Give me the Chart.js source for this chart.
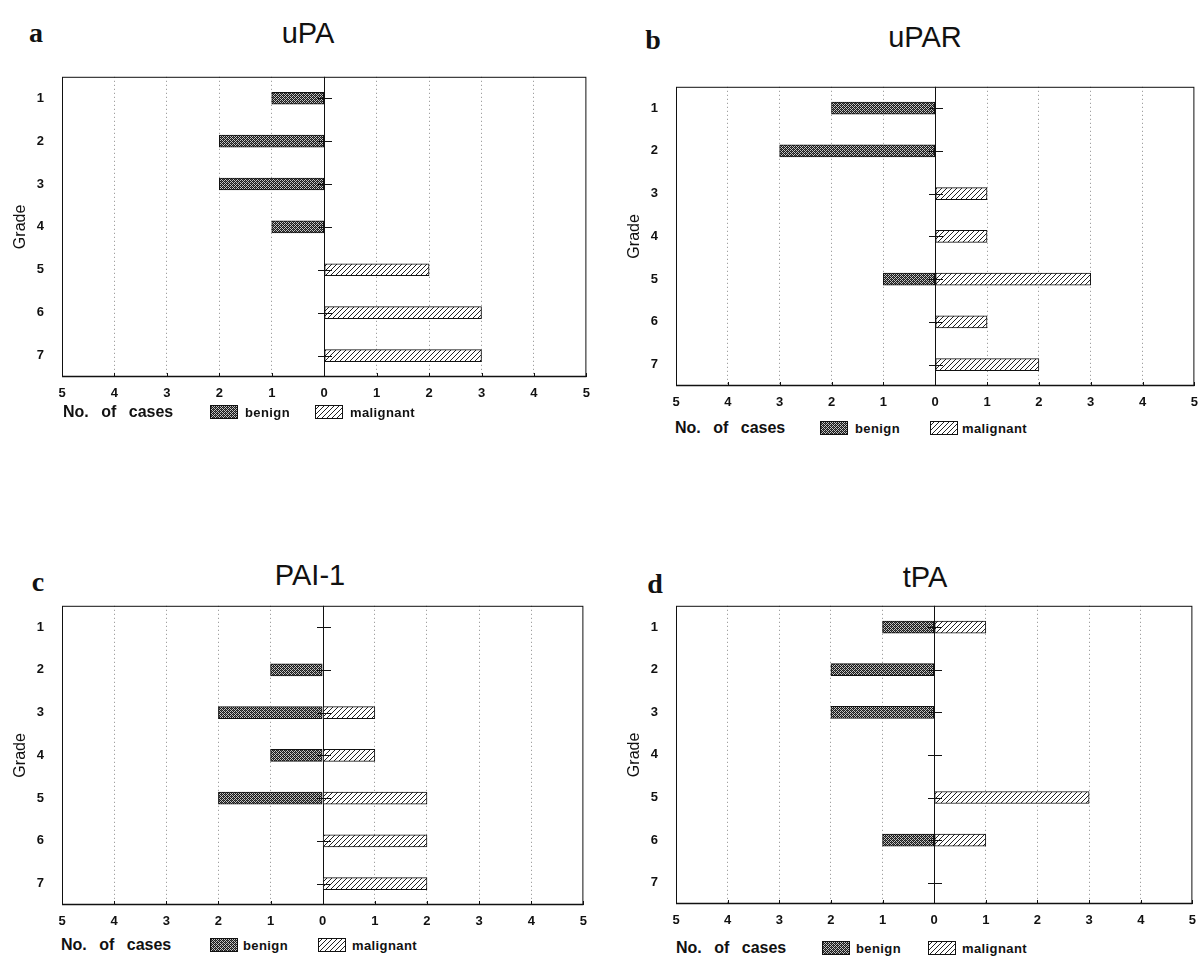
<!DOCTYPE html>
<html>
<head>
<meta charset="utf-8">
<script src="https://cdn.jsdelivr.net/npm/chart.js@4.4.0/dist/chart.umd.min.js"></script>
<style>
    body { margin: 0; background: #fff; }
    #page { position: relative; width: 1198px; height: 957px; overflow: hidden; font-family: "Liberation Sans", Arial, sans-serif; color: #111; }
    .lbl { position: absolute; transform: translate(-50%, -50%); white-space: nowrap; }
    .letter { font-family: "Liberation Serif", serif; font-weight: bold; font-size: 28px; }
    .title { font-size: 29px; }
    canvas.plot { position: absolute; }
    .leg { position: absolute; transform: translateY(-50%); white-space: nowrap; font-weight: bold; }
    .cases { font-size: 16px; word-spacing: 8px; }
    .kind { font-size: 13px; letter-spacing: 0.4px; }
    canvas.sw { position: absolute; transform: translateY(-50%); }
</style>
</head>
<body>
<div id="page"></div>
<script>
const grades = ['1', '2', '3', '4', '5', '6', '7'];
const xTicks = [-5, -4, -3, -2, -1, 0, 1, 2, 3, 4, 5];

// number of cases per grade
const uPaBenign = [1, 2, 2, 1, 0, 0, 0];
const uPaMalignant = [0, 0, 0, 0, 2, 3, 3];
const uParBenign = [2, 3, 0, 0, 1, 0, 0];
const uParMalignant = [0, 0, 1, 1, 3, 1, 2];
const pai1Benign = [0, 1, 2, 1, 2, 0, 0];
const pai1Malignant = [0, 0, 1, 1, 2, 2, 2];
const tPaBenign = [1, 2, 2, 0, 0, 1, 0];
const tPaMalignant = [1, 0, 0, 0, 3, 1, 0];

const panels = [
    { letter: 'a', title: 'uPA', benign: uPaBenign, malignant: uPaMalignant,
      rect: { l: 62, t: 77, r: 586, b: 377 }, letterPos: [36, 33], titlePos: [308, 33],
      legY: 412, leg: [63, 210, 245, 315, 350] },
    { letter: 'b', title: 'uPAR', benign: uParBenign, malignant: uParMalignant,
      rect: { l: 676, t: 87, r: 1194, b: 386 }, letterPos: [653, 40], titlePos: [925, 37],
      legY: 428, leg: [675, 820, 855, 930, 962] },
    { letter: 'c', title: 'PAI-1', benign: pai1Benign, malignant: pai1Malignant,
      rect: { l: 62, t: 606, r: 583, b: 905 }, letterPos: [38, 582], titlePos: [310, 575],
      legY: 945, leg: [61, 210, 243, 318, 352] },
    { letter: 'd', title: 'tPA', benign: tPaBenign, malignant: tPaMalignant,
      rect: { l: 676, t: 606, r: 1192, b: 904 }, letterPos: [655, 584], titlePos: [925, 577],
      legY: 948, leg: [676, 822, 856, 928, 962] }
];

const Y_AXIS_W = 62;
const PAD_T = 17;
const X_AXIS_H = 30;

function makeTile(size, draw) {
    const c = document.createElement('canvas');
    c.width = size;
    c.height = size;
    draw(c.getContext('2d'));
    return c;
}

const benignTile = makeTile(4, g => {
    g.fillStyle = '#c4c4c4';
    g.fillRect(0, 0, 4, 4);
    g.fillStyle = '#1a1a1a';
    for (let x = 0; x < 4; x++) {
        for (let y = 0; y < 4; y++) {
            if ((x + y) % 2 === 0) g.fillRect(x, y, 1, 1);
        }
    }
    g.fillStyle = '#555';
    g.fillRect(1, 2, 1, 1);
    g.fillRect(3, 0, 1, 1);
});

const malignantTile = makeTile(5, g => {
    g.fillStyle = '#fff';
    g.fillRect(0, 0, 5, 5);
    g.fillStyle = '#222';
    for (let x = 0; x < 5; x++) g.fillRect(x, 4 - x, 1, 1);
});

const pctx = document.createElement('canvas').getContext('2d');
const benignPattern = pctx.createPattern(benignTile, 'repeat');
const malignantPattern = pctx.createPattern(malignantTile, 'repeat');

const framePlugin = {
    id: 'frame',
    beforeDatasetsDraw(chart) {
        const { ctx, chartArea: a, scales: { x } } = chart;
        ctx.save();
        ctx.strokeStyle = '#111';
        ctx.lineWidth = 1;
        ctx.strokeRect(a.left + 0.5, a.top + 0.5, a.right - a.left - 1, a.bottom - a.top - 1);
        ctx.lineWidth = 1.6;
        ctx.beginPath();
        ctx.moveTo(a.left, a.bottom - 0.5);
        ctx.lineTo(a.right, a.bottom - 0.5);
        ctx.stroke();
        ctx.lineWidth = 1;
        const z = Math.round(x.getPixelForValue(0)) + 0.5;
        ctx.beginPath();
        ctx.moveTo(z, a.top);
        ctx.lineTo(z, a.bottom);
        ctx.stroke();
        // small upward ticks on the bottom axis
        xTicks.forEach(v => {
            const px = Math.round(x.getPixelForValue(v)) + 0.5;
            ctx.beginPath();
            ctx.moveTo(px, a.bottom);
            ctx.lineTo(px, a.bottom - 4);
            ctx.stroke();
        });
        ctx.restore();
    },
    afterDatasetsDraw(chart) {
        const { ctx, scales: { x, y } } = chart;
        const z = Math.round(x.getPixelForValue(0));
        ctx.save();
        ctx.strokeStyle = '#111';
        ctx.lineWidth = 1;
        grades.forEach((g, i) => {
            const py = Math.round(y.getPixelForValue(i)) + 0.5;
            ctx.beginPath();
            ctx.moveTo(z - 6, py);
            ctx.lineTo(z + 8, py);
            ctx.stroke();
        });
        ctx.restore();
    }
};

const page = document.getElementById('page');

function addText(cls, text, x, y) {
    const d = document.createElement('div');
    d.className = cls;
    d.textContent = text;
    d.style.left = x + 'px';
    d.style.top = y + 'px';
    page.appendChild(d);
    return d;
}

function addSwatch(pattern, x, y) {
    const c = document.createElement('canvas');
    c.className = 'sw';
    c.width = 28;
    c.height = 14;
    c.style.left = x + 'px';
    c.style.top = y + 'px';
    const g = c.getContext('2d');
    g.fillStyle = pattern;
    g.fillRect(0, 0, 28, 14);
    g.strokeStyle = '#111';
    g.strokeRect(0.5, 0.5, 27, 13);
    page.appendChild(c);
}

function chartConfig(p) {
    return {
        type: 'bar',
        data: {
            labels: grades,
            datasets: [{
                label: 'benign',
                data: p.benign.map(v => -v),
                backgroundColor: benignPattern,
                borderColor: '#111',
                borderWidth: 1,
                borderSkipped: false,
                barThickness: 12
            }, {
                label: 'malignant',
                data: p.malignant,
                backgroundColor: malignantPattern,
                borderColor: '#111',
                borderWidth: 1,
                borderSkipped: false,
                barThickness: 12
            }]
        },
        options: {
            indexAxis: 'y',
            responsive: false,
            maintainAspectRatio: false,
            animation: false,
            layout: { padding: { top: PAD_T, right: 0, left: 0, bottom: 0 } },
            plugins: {
                legend: { display: false },
                tooltip: { enabled: false }
            },
            scales: {
                x: {
                    stacked: true,
                    min: -5,
                    max: 5,
                    afterBuildTicks: s => { s.ticks = xTicks.map(v => ({ value: v })); },
                    ticks: {
                        callback: v => Math.abs(v),
                        color: '#111',
                        font: { family: 'Liberation Sans', size: 13, weight: 'bold' },
                        padding: 9,
                        maxRotation: 0,
                        autoSkip: false
                    },
                    grid: {
                        color: ctx => (ctx.tick && (Math.abs(ctx.tick.value) >= 5 || ctx.tick.value === 0)) ? 'rgba(0,0,0,0)' : '#8a8a8a',
                        drawTicks: false,
                        lineWidth: 1
                    },
                    border: { display: false, dash: [1, 3] },
                    afterFit: s => { s.height = X_AXIS_H; }
                },
                y: {
                    stacked: true,
                    ticks: {
                        color: '#111',
                        font: { family: 'Liberation Sans', size: 13, weight: 'bold' },
                        padding: 18
                    },
                    grid: { display: false, drawTicks: false },
                    border: { display: false },
                    title: {
                        display: true,
                        text: 'Grade',
                        color: '#111',
                        font: { family: 'Liberation Sans', size: 16 },
                        padding: { top: 11, bottom: 0 }
                    },
                    afterFit: s => { s.width = Y_AXIS_W; }
                }
            }
        },
        plugins: [framePlugin]
    };
}

panels.forEach(p => {
    addText('lbl letter', p.letter, p.letterPos[0], p.letterPos[1]);
    addText('lbl title', p.title, p.titlePos[0], p.titlePos[1]);

    const r = p.rect;
    const canvas = document.createElement('canvas');
    canvas.className = 'plot';
    let w = r.r - r.l + Y_AXIS_W;
    let h = r.b - r.t + PAD_T + X_AXIS_H;
    let top = r.t - PAD_T;
    canvas.width = w;
    canvas.height = h;
    page.appendChild(canvas);

    // first pass: see where the plot area lands, then resize so it sits on the rect
    let chart = new Chart(canvas, chartConfig(p));
    const a = chart.chartArea;
    const extraTop = Math.round(a.top - PAD_T);
    const extraRight = Math.round((Y_AXIS_W + r.r - r.l) - a.right);
    const extraLeft = Math.round(a.left - Y_AXIS_W);
    chart.destroy();
    w += extraRight;
    h += extraTop;
    top -= extraTop;
    canvas.width = w;
    canvas.height = h;
    canvas.style.width = w + 'px';
    canvas.style.height = h + 'px';
    canvas.style.left = (r.l - Y_AXIS_W - extraLeft) + 'px';
    canvas.style.top = top + 'px';
    chart = new Chart(canvas, chartConfig(p));

    const [xCases, xSwB, xTxtB, xSwM, xTxtM] = p.leg;
    addText('leg cases', 'No. of cases', xCases, p.legY);
    addSwatch(benignPattern, xSwB, p.legY);
    addText('leg kind', 'benign', xTxtB, p.legY);
    addSwatch(malignantPattern, xSwM, p.legY);
    addText('leg kind', 'malignant', xTxtM, p.legY);
});
</script>
</body>
</html>
